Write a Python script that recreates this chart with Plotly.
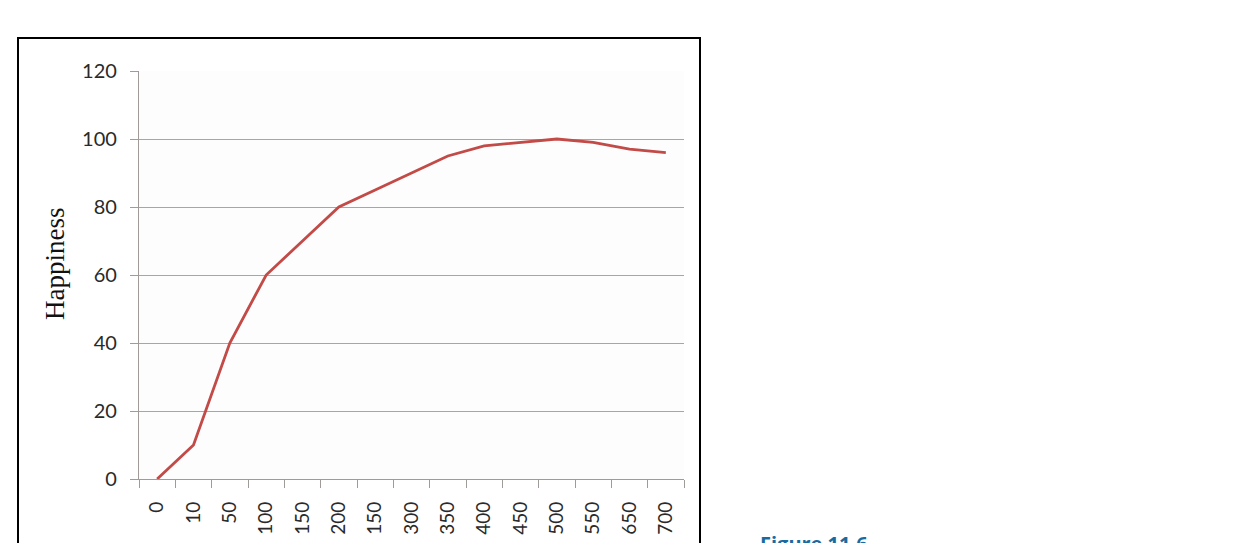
import plotly.graph_objects as go

income_labels = ["0", "10", "50", "100", "150", "200", "150", "300", "350",
                 "400", "450", "500", "550", "650", "700"]
happiness = [0, 10, 40, 60, 70, 80, 85, 90, 95, 98, 99, 100, 99, 97, 96]
y_ticks = [0, 20, 40, 60, 80, 100, 120]

W, H = 1250, 543
L, R, T, B = 139, 684, 71, 479

positions = list(range(len(income_labels)))
n = len(income_labels)

def px_x(p):
    return (p - L) / (R - L)

def px_y(p):
    return (B - p) / (B - T)

fig = go.Figure()
fig.add_trace(go.Scatter(
    x=positions, y=happiness, mode="lines",
    line=dict(color="#c24a47", width=2.8),
    hoverinfo="skip", showlegend=False,
))

fig.update_layout(
    width=W, height=H,
    margin=dict(l=L, r=W - R, t=T, b=H - B, autoexpand=False),
    paper_bgcolor="white", plot_bgcolor="#fdfdfd",
    font=dict(family="Lato, Open Sans, sans-serif", color="#2a2a2a"),
    xaxis=dict(
        range=[-0.5, n - 0.5], automargin=False,
        tickvals=positions, ticktext=income_labels,
        tickangle=-90, ticks="", showgrid=False, zeroline=False,
        tickfont=dict(size=19, color="#2a2a2a"),
        ticklabelstandoff=14,
        showline=True, linecolor="#a09a98", linewidth=1.3,
        minor=dict(tickvals=[i - 0.5 for i in range(n + 1)], ticks="outside",
                   ticklen=8, tickcolor="#a09a98", tickwidth=1.3, showgrid=False),
        fixedrange=True,
    ),
    yaxis=dict(
        range=[0, 120], tickvals=y_ticks, automargin=False,
        ticks="outside", ticklen=8, tickcolor="#a09a98", tickwidth=1.3,
        showgrid=True, gridcolor="#aaa4a2", gridwidth=1.3,
        zeroline=False, showline=True, linecolor="#a09a98", linewidth=1.3,
        tickfont=dict(size=20, color="#2a2a2a"),
        ticklabelstandoff=9,
        fixedrange=True,
    ),
)

# frame around the figure panel
fig.add_shape(type="rect", xref="paper", yref="paper",
              x0=px_x(18), x1=px_x(700), y0=px_y(560), y1=px_y(38),
              line=dict(color="black", width=2), fillcolor="rgba(0,0,0,0)",
              layer="above")

fig.add_annotation(text="Happiness", xref="paper", yref="paper",
                   x=px_x(55), y=px_y(264), textangle=-90, showarrow=False,
                   font=dict(family="Liberation Serif, Times New Roman, serif",
                             size=27, color="#111111"),
                   xanchor="center", yanchor="middle")

fig.add_annotation(text="<b>Figure 11.6</b>", xref="paper", yref="paper",
                   x=px_x(758), y=px_y(528), showarrow=False,
                   xanchor="left", yanchor="top",
                   font=dict(family="Open Sans, sans-serif", size=20, color="#1a6aa0"))

fig.write_html("out.html")
